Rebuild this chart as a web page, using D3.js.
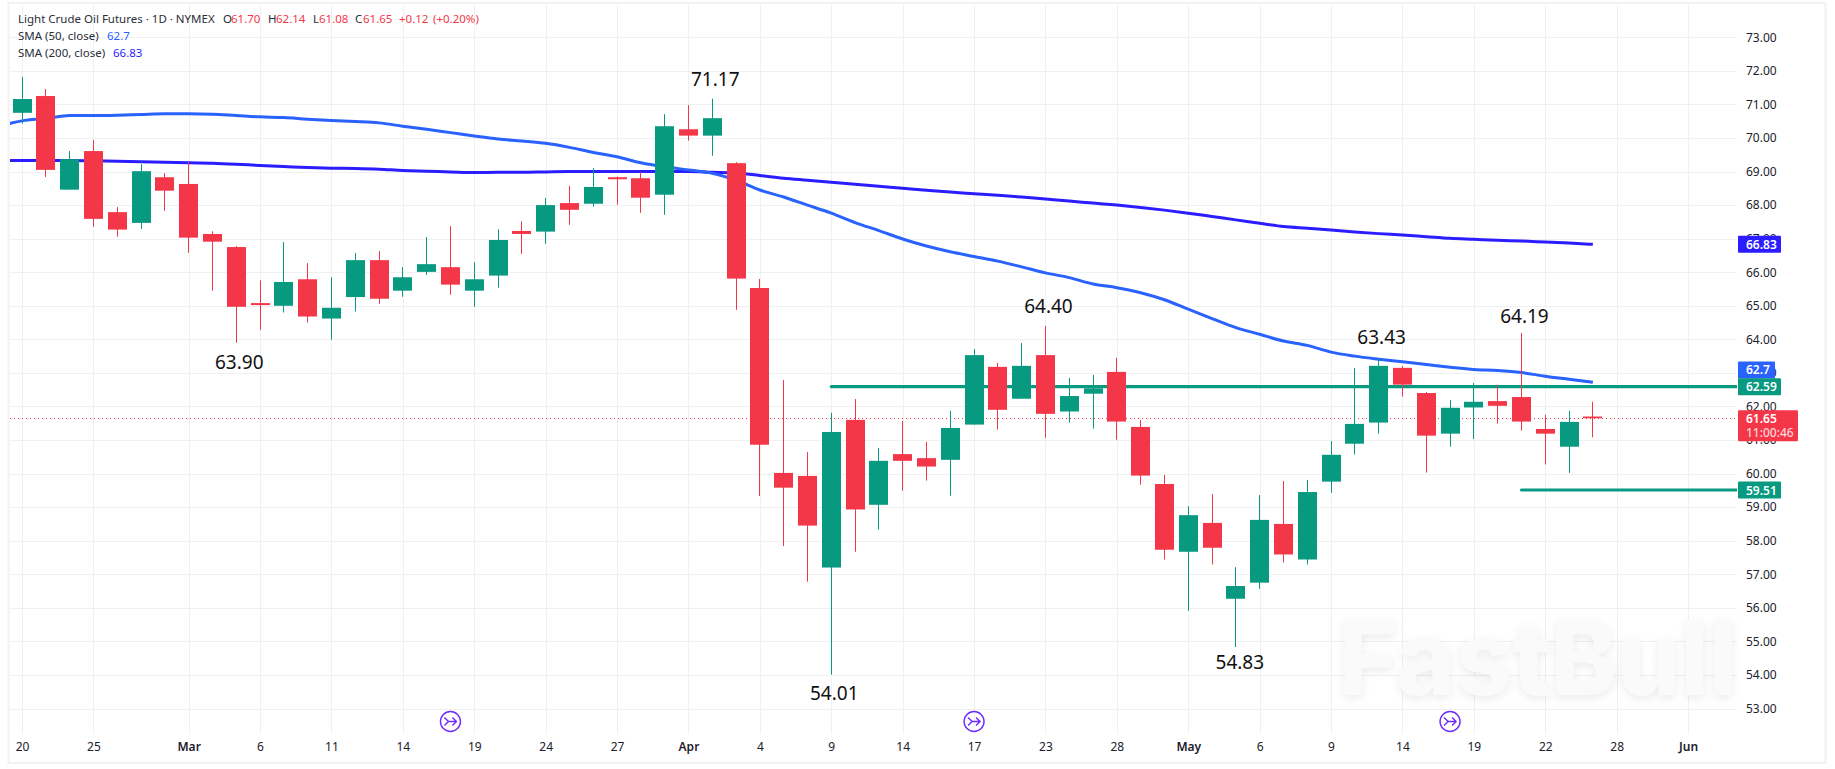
<!DOCTYPE html>
<html>
<head>
<meta charset="utf-8">
<script src="https://cdn.jsdelivr.net/npm/d3@7"></script>
<style>
  html, body { margin: 0; background: #fff; }
  svg { display: block; }
  text { font-family: 'Noto Sans', sans-serif; font-size: 12px; fill: #2a2e39; }
  .domain { display: none; }
  .grid line { stroke: #eff0f2; }
  .price-axis text, .time-axis text { fill: #1c202b; font-size: 12px; }
  .head { font-size: 11.5px; }
  .note { font-size: 19px; fill: #111; text-anchor: middle; dominant-baseline: central; }
  .tag { fill: #fff; font-weight: 600; dominant-baseline: central; }
  .wm { font-family: Inter, sans-serif; font-size: 103px; font-weight: 800; fill: #fafafa; filter: drop-shadow(0 3px 5px rgba(0,0,0,.08)); }
</style>
</head>
<body>
<div id="container"></div>
<script>
const opens = [70.75,71.25,68.46,69.61,67.79,67.47,68.83,68.63,67.14,66.75,65.08,65.00,65.79,64.62,65.26,66.36,65.45,66.01,66.15,65.45,65.90,67.23,67.21,68.06,68.04,68.83,68.80,68.31,70.26,70.07,69.25,65.53,60.02,59.93,57.20,61.60,59.07,60.58,60.46,60.41,61.46,63.18,62.23,63.53,61.85,62.38,63.03,61.39,59.69,57.67,58.53,56.27,56.75,58.50,57.44,59.76,60.89,61.52,63.15,62.40,61.19,61.97,62.16,62.28,61.33,60.80,61.70];
const highs = [71.82,71.46,69.61,69.94,67.94,69.22,68.95,69.28,67.22,66.78,65.76,66.90,66.27,65.85,66.57,66.63,66.15,67.05,67.37,66.30,67.28,67.52,68.21,68.57,69.10,68.85,68.98,70.71,70.98,71.17,69.28,65.80,62.79,60.64,61.81,62.22,60.76,61.57,60.94,61.87,63.71,63.30,63.89,64.40,62.85,62.94,63.45,61.60,59.96,59.03,59.39,57.21,59.36,59.78,59.81,60.97,63.15,63.43,63.21,62.43,62.19,62.70,62.64,64.19,61.75,61.87,62.14];
const lows = [70.43,68.84,68.46,67.35,67.06,67.29,67.83,66.58,65.45,63.90,64.28,64.80,64.50,63.99,64.83,65.06,65.27,65.92,65.33,64.97,65.54,66.55,66.85,67.41,67.95,68.01,67.77,67.71,69.92,69.47,64.88,59.33,57.84,56.78,54.01,57.67,58.33,59.49,59.79,59.34,61.46,61.31,62.23,61.07,61.52,61.34,61.01,59.67,57.44,55.91,57.29,54.83,56.57,57.35,57.29,59.43,60.57,61.19,62.29,60.03,60.80,61.03,61.49,61.28,60.27,60.02,61.08];
const closes = [71.16,69.05,69.37,67.59,67.27,69.01,68.43,67.03,66.91,64.97,65.02,65.71,64.68,64.94,66.36,65.21,65.85,66.24,65.63,65.79,66.96,67.14,68.00,67.86,68.54,68.77,68.22,70.35,70.07,70.59,65.81,60.86,59.58,58.45,61.24,58.93,60.38,60.38,60.21,61.36,63.53,61.90,63.21,61.78,62.31,62.54,61.55,59.94,57.73,58.76,57.79,56.65,58.62,57.59,59.45,60.56,61.48,63.21,62.65,61.13,61.96,62.14,62.02,61.55,61.19,61.54,61.65];

// first value of each SMA sits one bar left of the first candle
const sma50 = [70.35,70.51,70.58,70.67,70.67,70.68,70.70,70.72,70.72,70.71,70.67,70.63,70.61,70.56,70.52,70.49,70.45,70.35,70.26,70.16,70.06,69.97,69.91,69.84,69.72,69.57,69.44,69.26,69.14,69.05,68.95,68.74,68.45,68.24,68.00,67.76,67.48,67.24,66.99,66.78,66.61,66.47,66.33,66.16,65.98,65.84,65.65,65.54,65.39,65.18,64.90,64.62,64.35,64.15,63.95,63.82,63.62,63.50,63.41,63.33,63.25,63.17,63.10,63.07,63.01,62.90,62.81,62.72];
const sma200 = [69.33,69.33,69.33,69.33,69.32,69.31,69.29,69.28,69.26,69.25,69.22,69.18,69.15,69.12,69.10,69.09,69.07,69.03,69.01,68.99,68.97,68.98,68.98,68.99,69.00,69.00,69.00,69.00,69.00,69.00,68.98,68.96,68.88,68.80,68.74,68.68,68.62,68.56,68.50,68.44,68.39,68.34,68.29,68.24,68.18,68.12,68.06,68.00,67.93,67.85,67.76,67.66,67.56,67.46,67.36,67.31,67.26,67.20,67.15,67.11,67.06,67.01,66.98,66.95,66.93,66.90,66.87,66.83];

const priceTicks = d3.range(53, 74);
const timeIdx = [0,3,7,10,13,16,19,22,25,28,31,34,37,40,43,46,49,52,55,58,61,64,67,70];
const timeLabels = ['20','25','Mar','6','11','14','19','24','27','Apr','4','9','14','17','23','28','May','6','9','14','19','22','28','Jun'];

const noteIdx = [29,9,34,43,57,63,51];
const notePrice = [71.17,63.90,54.01,64.40,63.43,64.19,54.83];
const noteDy = [-20,19,18,-20,-21,-17,15];
const noteDx = [3,3,3,3,3,3,4];

const levelPrice = [62.59,59.51];
const levelStart = [34,63];
const iconIdx = [18,40,60];

const w = 1835,
  h = 769,
  left = 10,
  right = 1737,
  top_ = 5,
  bottom = 734;

const green = '#089981',
  red = '#f43748',
  blue50 = '#2962ff',
  blue200 = '#2b1dff';

const x = d3.scaleLinear().domain([0, 70]).range([22.05, 1688.05]);
const y = d3.scaleLinear().domain([73, 53]).range([37.3, 708.5]);

const svg = d3.select('#container').append('svg').attr('width', w).attr('height', h);

svg.append('defs').append('clipPath').attr('id', 'plot')
  .append('rect').attr('x', left).attr('y', top_).attr('width', right - left).attr('height', bottom - top_);

// frame
svg.append('rect').attr('x', 8.5).attr('y', 3).attr('width', 1817).attr('height', 760)
  .attr('fill', 'none').attr('stroke', '#f2f2f3').attr('stroke-width', 2);

// grid
svg.append('g').attr('class', 'grid').attr('transform', 'translate(' + right + ',0)')
  .call(d3.axisLeft(y).tickValues(priceTicks).tickSize(right - left).tickFormat(''));
svg.append('g').attr('class', 'grid').attr('transform', 'translate(0,' + bottom + ')')
  .call(d3.axisTop(x).tickValues(timeIdx).tickSize(bottom - top_).tickFormat(''));
svg.selectAll('.grid line').attr('shape-rendering', 'crispEdges');

// watermark
svg.append('text').attr('class', 'wm').attr('x', 1339).attr('y', 695)
  .attr('textLength', 398).attr('lengthAdjust', 'spacingAndGlyphs').text('FastBull');

const plot = svg.append('g').attr('clip-path', 'url(#plot)');

// last price
plot.append('line')
  .attr('x1', left).attr('x2', right)
  .attr('y1', Math.round(y(61.65)) + 0.5).attr('y2', Math.round(y(61.65)) + 0.5)
  .attr('stroke', red).attr('stroke-dasharray', '1 3');

// levels
plot.selectAll('.level').data(levelPrice).enter().append('line')
  .attr('class', 'level')
  .attr('x1', (d, i) => x(levelStart[i]))
  .attr('x2', right + 2)
  .attr('y1', (d) => y(d))
  .attr('y2', (d) => y(d))
  .attr('stroke', green)
  .attr('stroke-width', 3.2)
  .attr('stroke-linecap', 'round');

// moving averages
const smaLine = d3.line().x((d, i) => x(i - 1)).y((d) => y(d)).curve(d3.curveMonotoneX);
plot.append('path').datum(sma200).attr('d', smaLine).attr('fill', 'none').attr('stroke', blue200).attr('stroke-width', 3);
plot.append('path').datum(sma50).attr('d', smaLine).attr('fill', 'none').attr('stroke', blue50).attr('stroke-width', 3);

// candles
const candles = plot.selectAll('.candle').data(opens).enter().append('g').attr('class', 'candle');
const col = (o, i) => (closes[i] >= o ? green : red);

candles.append('line')
  .attr('x1', (d, i) => Math.floor(x(i)) + 0.5)
  .attr('x2', (d, i) => Math.floor(x(i)) + 0.5)
  .attr('y1', (d, i) => y(highs[i]))
  .attr('y2', (d, i) => y(lows[i]))
  .attr('stroke', col);

candles.append('rect')
  .attr('x', (d, i) => Math.floor(x(i)) - 9)
  .attr('width', 19)
  .attr('y', (d, i) => y(Math.max(d, closes[i])))
  .attr('height', (d, i) => Math.max(1, Math.abs(y(d) - y(closes[i]))))
  .attr('fill', col);

// price annotations
svg.selectAll('.note').data(notePrice).enter().append('text')
  .attr('class', 'note')
  .attr('x', (d, i) => x(noteIdx[i]) + noteDx[i])
  .attr('y', (d, i) => y(d) + noteDy[i])
  .text((d) => d.toFixed(2));

// event markers
const icons = svg.selectAll('.icon').data(iconIdx).enter().append('g')
  .attr('class', 'icon')
  .attr('transform', (d) => 'translate(' + x(d) + ',721.5)')
  .attr('fill', 'none').attr('stroke', '#6c2bff').attr('stroke-width', 1.4);
icons.append('circle').attr('r', 10);
icons.append('path').attr('d', 'M-6,-4 L-2,0 L-6,4 M-2,0 H6 M2,-4 L6,0 L2,4');

// axes
svg.append('g').attr('class', 'price-axis').attr('transform', 'translate(' + right + ',0)')
  .call(d3.axisRight(y).tickValues(priceTicks).tickSize(0).tickPadding(9).tickFormat(d3.format('.2f')));

svg.append('g').attr('class', 'time-axis').attr('transform', 'translate(0,' + bottom + ')')
  .call(d3.axisBottom(x).tickValues(timeIdx).tickSize(0).tickPadding(8)
    .tickFormat((d, i) => timeLabels[i]))
  .selectAll('text')
  .style('font-weight', (d, i) => (timeLabels[i].length === 3 ? 600 : 400));

// price tags
const tagPrice = [66.83,62.7,62.59,59.51];
const tagText = ['66.83','62.7','62.59','59.51'];
const tagColor = [blue200,blue50,green,green];
const tagWidth = [43,37,43,43];
const tagNudge = [0,-13,0,0];

const tags = svg.selectAll('.price-tag').data(tagPrice).enter().append('g').attr('class', 'price-tag');
tags.append('rect')
  .attr('x', right + 1)
  .attr('y', (d, i) => y(d) + tagNudge[i] - 8.5)
  .attr('width', (d, i) => tagWidth[i])
  .attr('height', 17)
  .attr('rx', 1)
  .attr('fill', (d, i) => tagColor[i]);
tags.append('text')
  .attr('class', 'tag')
  .attr('x', right + 9)
  .attr('y', (d, i) => y(d) + tagNudge[i])
  .text((d, i) => tagText[i]);

svg.append('rect').attr('x', right + 1).attr('y', y(61.65) - 8).attr('width', 60).attr('height', 31).attr('rx', 1).attr('fill', red);
svg.append('text').attr('class', 'tag').attr('x', right + 9).attr('y', y(61.65) + 0.5).text('61.65');
svg.append('text').attr('class', 'tag').attr('x', right + 9).attr('y', y(61.65) + 14.5).style('fill', '#ffd3d7').style('font-weight', 500).text('11:00:46');

// header
const headerText = ['Light Crude Oil Futures · 1D · NYMEX','O','61.70','H','62.14','L','61.08','C','61.65','+0.12','(+0.20%)','SMA (50, close)','62.7','SMA (200, close)','66.83'];
const headerX = [18,223,231,268,276,313,319,355,363,399,433,18,107,18,113];
const headerRow = [0,0,0,0,0,0,0,0,0,0,0,1,1,2,2];
const headerFill = ['#2a2e39','#2a2e39',red,'#2a2e39',red,'#2a2e39',red,'#2a2e39',red,red,red,'#2a2e39',blue50,'#2a2e39',blue200];

svg.selectAll('.head').data(headerText).enter().append('text')
  .attr('class', 'head')
  .attr('x', (d, i) => headerX[i])
  .attr('y', (d, i) => 23 + headerRow[i] * 17)
  .style('fill', (d, i) => headerFill[i])
  .text((d) => d);
</script>
</body>
</html>
